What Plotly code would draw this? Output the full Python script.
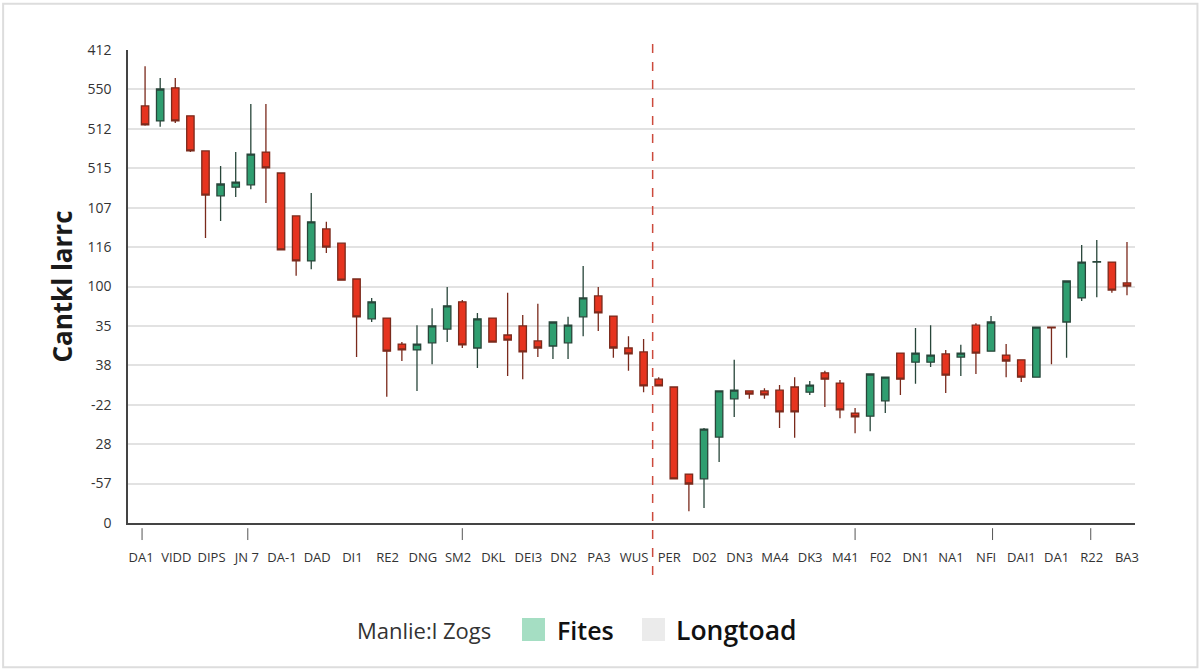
import numpy as np
import plotly.graph_objects as go

# ---- data ----
opens = [105.8, 102.0, 110.4, 103.3, 94.4, 83.0, 85.2, 85.8, 94.1, 88.8,
         77.9, 66.5, 74.6, 71.0, 61.9, 51.8, 52.0, 45.4, 43.9, 45.7,
         49.2, 56.1, 44.4, 52.0, 47.7, 50.0, 46.2, 44.9, 45.7, 52.3,
         57.6, 52.5, 44.4, 43.4, 36.5, 34.5, 12.4, 11.2, 21.8, 31.5,
         33.5, 33.5, 33.7, 34.5, 33.2, 38.1, 35.5, 27.9, 27.1, 31.0,
         43.1, 40.8, 40.8, 42.9, 42.1, 50.2, 43.6, 42.6, 41.4, 37.0,
         49.7, 51.0, 57.1, 66.2, 66.2, 60.9]
highs = [115.9, 112.9, 112.9, 103.3, 94.4, 90.6, 94.1, 106.3, 106.3, 88.8,
         77.9, 83.7, 76.4, 71.0, 61.9, 57.1, 52.0, 45.9, 50.2, 54.5,
         59.9, 56.6, 53.3, 52.0, 58.4, 52.8, 55.6, 51.0, 52.3, 65.2,
         59.9, 52.5, 47.4, 46.7, 37.0, 34.5, 12.4, 24.1, 33.5, 41.4,
         33.7, 34.2, 35.0, 37.0, 36.0, 38.6, 36.3, 29.2, 37.8, 37.0,
         43.1, 49.5, 50.2, 43.9, 45.2, 50.7, 52.5, 45.4, 41.4, 49.7,
         49.7, 61.4, 70.5, 71.8, 66.2, 71.3]
lows = [100.8, 100.5, 101.5, 94.1, 72.3, 76.6, 82.7, 84.7, 81.2, 69.3,
        62.7, 64.4, 68.5, 61.6, 42.1, 51.0, 32.0, 41.1, 33.5, 40.3,
        45.9, 44.4, 39.3, 45.9, 37.3, 36.5, 42.1, 41.6, 41.6, 47.4,
        48.7, 41.9, 38.6, 33.2, 34.8, 11.2, 3.0, 3.8, 15.5, 26.9,
        31.5, 31.5, 24.1, 21.6, 32.5, 29.4, 26.6, 22.8, 23.3, 27.9,
        32.5, 35.3, 39.6, 33.0, 37.3, 37.8, 43.6, 37.0, 35.8, 37.0,
        40.3, 41.9, 56.3, 57.3, 58.4, 57.8]
closes = [101.0, 110.1, 102.0, 94.4, 83.2, 86.0, 86.5, 93.6, 90.1, 69.3,
          66.5, 76.4, 70.0, 61.6, 52.3, 56.1, 43.6, 43.9, 45.4, 50.0,
          55.1, 45.2, 51.8, 45.9, 46.4, 43.4, 44.4, 51.0, 50.2, 57.1,
          53.3, 44.4, 42.9, 34.8, 34.8, 11.2, 9.9, 23.8, 33.5, 33.7,
          32.7, 32.5, 28.2, 28.2, 35.0, 36.5, 28.7, 26.9, 37.8, 37.0,
          36.5, 43.1, 42.6, 37.5, 43.1, 43.1, 51.0, 41.1, 37.0, 49.7,
          49.5, 61.4, 66.2, 66.3, 59.1, 60.1]
candle_idx = list(range(len(opens)))

x_labels = ["DA1", "VIDD", "DIPS", "JN 7", "DA-1", "DAD", "DI1", "RE2", "DNG",
            "SM2", "DKL", "DEI3", "DN2", "PA3", "WUS", "PER", "D02", "DN3",
            "MA4", "DK3", "M41", "F02", "DN1", "NA1", "NFI", "DAI1", "DA1",
            "R22", "BA3"]
y_tick_labels = ["0", "-57", "28", "-22", "38", "35", "100", "116", "107",
                 "515", "512", "550", "412"]
y_title = "Cantkl larrc"
legend_title = "Manlie:l Zogs"
legend_names = ["Fites", "Longtoad"]
marker_candle = 33.6
minor_tick_marks = [-0.2, 6.8, 21.0, 47.0, 56.1, 62.6]

FONT = "Open Sans"
RED = "#e6341f"
GREEN = "#2f9e70"

fig = go.Figure()
fig.add_trace(go.Candlestick(
    x=candle_idx, open=opens, high=highs, low=lows, close=closes,
    increasing=dict(fillcolor=GREEN, line=dict(color="#28463a", width=1.3)),
    decreasing=dict(fillcolor=RED, line=dict(color="#7a2a1c", width=1.3)),
    showlegend=False,
))

xtick_pos = np.linspace(-0.26, 65, len(x_labels))
ytick_pos = [10 * i for i in range(len(y_tick_labels))]

fig.update_layout(
    width=1200, height=672,
    margin=dict(l=128, r=65, t=50, b=149),
    paper_bgcolor="white", plot_bgcolor="white",
    font=dict(family=FONT, color="#333333"),
    xaxis=dict(
        range=[-1.13, 65.53], rangeslider=dict(visible=False),
        tickmode="array", tickvals=list(xtick_pos), ticktext=x_labels,
        tickfont=dict(size=13, color="#333333"),
        ticks="outside", ticklen=22, tickcolor="rgba(0,0,0,0)",
        showgrid=False, zeroline=False,
        showline=True, linecolor="#444444", linewidth=1.5,
    ),
    yaxis=dict(
        range=[0, 120], tickmode="array", tickvals=ytick_pos,
        ticktext=y_tick_labels, tickfont=dict(size=14, color="#333333"),
        ticks="outside", ticklen=12, tickcolor="rgba(0,0,0,0)",
        showgrid=True, gridcolor="#e2e2e2", gridwidth=1.5,
        zeroline=False, showline=True, linecolor="#444444", linewidth=1.5,
        title=dict(text=y_title, font=dict(size=26, color="#1a1a1a", family=FONT, weight="bold"),
                   standoff=7),
    ),
)

shapes = [
    dict(type="line", xref="x", yref="paper", x0=marker_candle, x1=marker_candle,
         y0=-0.11, y1=1.017, line=dict(color="#cc4a3c", width=1.5, dash="dash")),
    dict(type="rect", xref="paper", yref="paper", x0=-0.124, x1=1.062, y0=-0.305, y1=1.098,
         line=dict(color="#dddddd", width=2)),
]
for t in minor_tick_marks:
    shapes.append(dict(type="line", xref="x", yref="paper", x0=t, x1=t, y0=-0.011, y1=-0.036,
                       line=dict(color="#555555", width=1)))
# legend swatches
shapes.append(dict(type="rect", xref="paper", yref="paper",
                   x0=(522 - 128) / 1007, x1=(545 - 128) / 1007,
                   y0=(523 - 641) / 473, y1=(523 - 618) / 473,
                   fillcolor="#a5dec3", line=dict(width=0)))
shapes.append(dict(type="rect", xref="paper", yref="paper",
                   x0=(642 - 128) / 1007, x1=(665 - 128) / 1007,
                   y0=(523 - 641) / 473, y1=(523 - 618) / 473,
                   fillcolor="#ebebeb", line=dict(width=0)))
fig.update_layout(shapes=shapes)

annotations = [
    dict(text=legend_title, xref="paper", yref="paper", x=(424 - 128) / 1007, y=(523 - 630) / 473,
         showarrow=False, font=dict(size=22, color="#333333", family=FONT), xanchor="center", yanchor="middle"),
    dict(text=legend_names[0], xref="paper", yref="paper", x=(555 - 128) / 1007, y=(523 - 630) / 473,
         showarrow=False, font=dict(size=25, color="#111111", family=FONT, weight=600), xanchor="left", yanchor="middle"),
    dict(text=legend_names[1], xref="paper", yref="paper", x=(674 - 128) / 1007, y=(523 - 630) / 473,
         showarrow=False, font=dict(size=26.5, color="#111111", family=FONT, weight=600), xanchor="left", yanchor="middle"),
]
fig.update_layout(annotations=annotations)

fig.write_html("out.html", config={"displayModeBar": False},
               post_script="document.body.style.margin='0';")
